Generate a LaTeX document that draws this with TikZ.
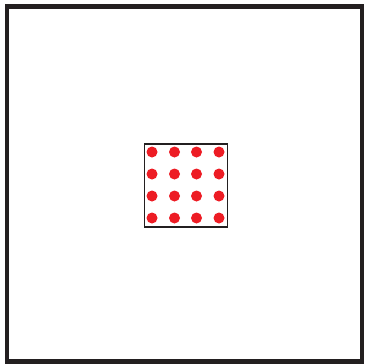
\documentclass[tikz,border=0pt]{standalone}
\definecolor{dotred}{HTML}{ED1C24}
\definecolor{frame}{HTML}{231F20}
\tikzset{
  outerbox/.style={draw=frame,line width=4.2pt},
  innerbox/.style={draw=frame,line width=1.8pt},
  reddot/.style={circle,fill=dotred,inner sep=0pt,minimum size=11pt}
}
\begin{document}
\begin{tikzpicture}[x=1pt,y=-1pt]
\useasboundingbox (0,0) rectangle (365,364);
\draw[outerbox] (7.2,6.5) rectangle (361.8,361.5);
\draw[innerbox] (144.5,144) rectangle (227.5,227);
\foreach \i/\x in {1/152,2/174.5,3/196.5,4/219}{
  \foreach \j/\y in {1/152,2/174,3/196,4/218}{
    \node[reddot] (d\i\j) at (\x,\y) {};
  }
}
\end{tikzpicture}
\end{document}
